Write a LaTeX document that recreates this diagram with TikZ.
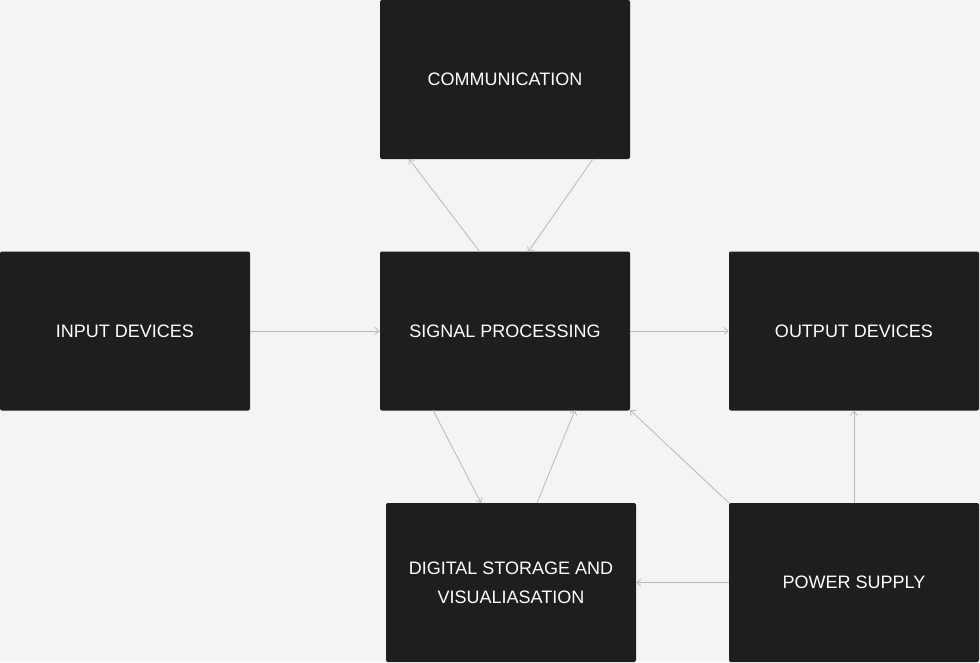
\documentclass[tikz,border=0pt]{standalone}
\usepackage{fontspec}
\setmainfont{Liberation Sans}
\usetikzlibrary{arrows.meta}
\definecolor{bg}{HTML}{F4F4F4}
\definecolor{boxc}{HTML}{1E1E1E}
\definecolor{arr}{HTML}{B8B8B8}
\begin{document}
\begin{tikzpicture}[x=1pt,y=-1pt,
  blk/.style={fill=boxc,draw=none,rounded corners=2pt,minimum width=250pt,minimum height=159pt,
    text=white,font=\fontsize{18}{29}\selectfont,align=center,inner sep=0pt},
  con/.style={draw=arr,line width=0.8pt,-{Straight Barb[length=4pt,width=7pt,line width=0.8pt]}}]
\fill[bg] (0,0) rectangle (980,662);
\useasboundingbox (0,0) rectangle (980,662);
\node[blk] (com) at (505,79.5) {\raisebox{-1.5pt}{COMMUNICATION}};
\node[blk] (inp) at (125,331) {\raisebox{-1pt}{INPUT DEVICES}};
\node[blk] (sig) at (505,331) {\raisebox{-1pt}{SIGNAL PROCESSING}};
\node[blk] (out) at (854,331) {\raisebox{-1pt}{OUTPUT DEVICES}};
\node[blk] (dig) at (511,582.5) {DIGITAL STORAGE AND\\VISUALIASATION};
\node[blk] (pow) at (854,582.5) {\raisebox{-1pt}{POWER SUPPLY}};
\coordinate (s1) at (480,252); \coordinate (c1) at (409,159);
\coordinate (c2) at (593,159); \coordinate (s2) at (528,252);
\coordinate (s3) at (433,410); \coordinate (d1) at (481,503);
\coordinate (d2) at (537,503); \coordinate (s4) at (575,410);
\coordinate (p1) at (729,503); \coordinate (s5) at (630,410);
\draw[con] (s1) -- (c1);
\draw[con] (c2) -- (s2);
\draw[con] (inp.east) -- (sig.west);
\draw[con] (sig.east) -- (out.west);
\draw[con] (s3) -- (d1);
\draw[con] (d2) -- (s4);
\draw[con] (p1) -- (s5);
\draw[con] (pow.north) -- (out.south);
\draw[con] (pow.west) -- (dig.east);
\end{tikzpicture}
\end{document}
